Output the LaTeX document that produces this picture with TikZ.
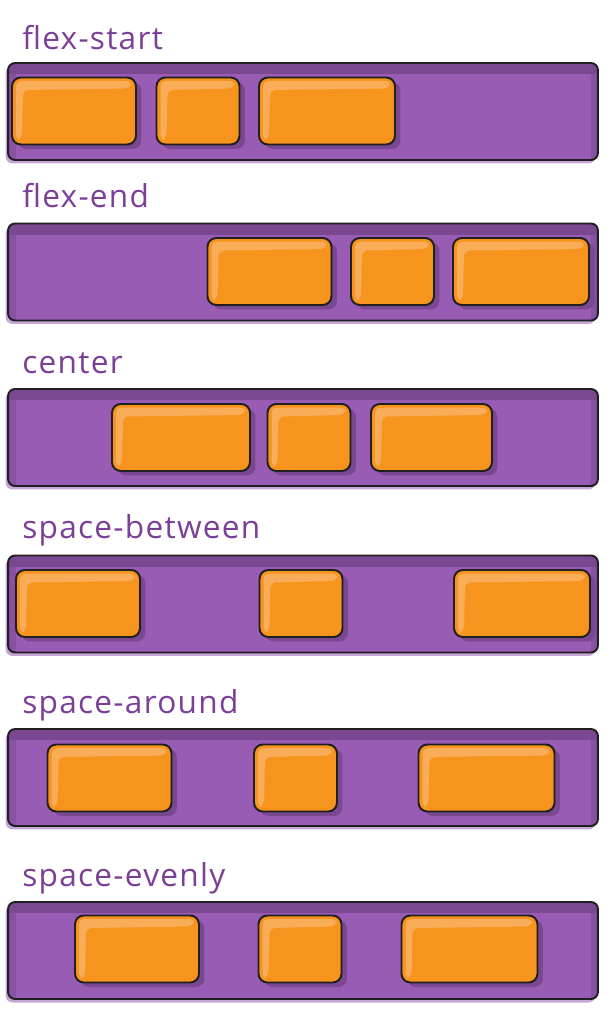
\documentclass[tikz,border=0pt]{standalone}
\usepackage{fontspec}
\setmainfont{Open Sans}
\newfontfamily\labelfont[LetterSpace=4]{Open Sans}
\usetikzlibrary{shadows,positioning}
\definecolor{flexpurple}{RGB}{152,92,180}
\definecolor{shadepurple}{RGB}{122,72,145}
\definecolor{labelpurple}{RGB}{123,63,152}
\definecolor{itemorange}{RGB}{247,148,30}
\definecolor{itemlight}{RGB}{249,173,88}
\definecolor{inkline}{RGB}{31,31,31}

\tikzset{
  flexrow/.style={draw=inkline, line width=1.1pt, rounded corners=4pt, fill=flexpurple,
    minimum width=11.8cm, minimum height=1.94cm, inner sep=0pt,
    drop shadow={shadow xshift=-0.05cm, shadow yshift=-0.07cm, fill=flexpurple, opacity=0.55},
    path picture={
      \fill[shadepurple, sharp corners] (path picture bounding box.north west) rectangle ([yshift=-0.22cm]path picture bounding box.north east);
      \fill[shadepurple, opacity=0.5, sharp corners] (path picture bounding box.north west) rectangle ([xshift=0.16cm]path picture bounding box.south west);
      \fill[shadepurple, opacity=0.5, sharp corners] (path picture bounding box.north east) rectangle ([xshift=-0.14cm]path picture bounding box.south east);
    }},
  item/.style={draw=inkline, line width=1.1pt, rounded corners=5pt, fill=itemorange,
    minimum height=1.34cm, inner sep=0pt,
    drop shadow={shadow xshift=0.11cm, shadow yshift=-0.09cm, fill=shadepurple, opacity=1},
    path picture={
      \fill[itemlight, rounded corners=3pt]
        ([shift={(0.08cm,-0.07cm)}]path picture bounding box.north west)
        -- ([shift={(-0.08cm,-0.07cm)}]path picture bounding box.north east)
        -- ([shift={(-0.12cm,-0.22cm)}]path picture bounding box.north east)
        -- ([shift={(0.22cm,-0.25cm)}]path picture bounding box.north west)
        -- ([shift={(0.2cm,0.12cm)}]path picture bounding box.south west)
        -- ([shift={(0.08cm,0.08cm)}]path picture bounding box.south west) -- cycle;
    }},
  itemone/.style={item, minimum width=2.48cm},
  itemtwo/.style={item, minimum width=1.66cm},
  itemthree/.style={item, minimum width=2.72cm},
  rowlabel/.style={anchor=base west, text=labelpurple, inner sep=0pt,
    font=\labelfont\fontsize{18}{20}\selectfont}
}

\begin{document}
\begin{tikzpicture}[x=0.02cm, y=-0.02cm]
\useasboundingbox (0,0) rectangle (611,1024);

% flex-start
\node[rowlabel] (startlbl) at (22,50) {flex-start};
\node[flexrow] (startrow) at (303,111.5) {};
\node[itemone] (startA) at (74,111) {};
\node[itemtwo] (startB) at (198,111) {};
\node[itemthree] (startC) at (327,111) {};

% flex-end
\node[rowlabel] (endlbl) at (22,207) {flex-end};
\node[flexrow] (endrow) at (303,272) {};
\node[itemone] (endA) at (269.5,271.5) {};
\node[itemtwo] (endB) at (392.5,271.5) {};
\node[itemthree] (endC) at (521,271.5) {};

% center
\node[rowlabel] (centerlbl) at (22,373) {center};
\node[flexrow] (centerrow) at (303,437.5) {};
\node[itemone, minimum width=2.76cm] (centerA) at (181,437.5) {};
\node[itemtwo] (centerB) at (309,437.5) {};
\node[itemthree, minimum width=2.42cm] (centerC) at (431.5,437.5) {};

% space-between
\node[rowlabel] (betweenlbl) at (22,538) {space-between};
\node[flexrow] (betweenrow) at (303,604) {};
\node[itemone] (betweenA) at (78,603.5) {};
\node[itemtwo] (betweenB) at (301,603.5) {};
\node[itemthree] (betweenC) at (522,603.5) {};

% space-around
\node[rowlabel] (aroundlbl) at (22,713) {space-around};
\node[flexrow] (aroundrow) at (303,777.5) {};
\node[itemone] (aroundA) at (109.5,778) {};
\node[itemtwo] (aroundB) at (295.5,778) {};
\node[itemthree] (aroundC) at (486.5,778) {};

% space-evenly
\node[rowlabel] (evenlylbl) at (22,886) {space-evenly};
\node[flexrow] (evenlyrow) at (303,950.5) {};
\node[itemone] (evenlyA) at (137,949) {};
\node[itemtwo] (evenlyB) at (300,949) {};
\node[itemthree] (evenlyC) at (469.5,949) {};
\end{tikzpicture}
\end{document}
